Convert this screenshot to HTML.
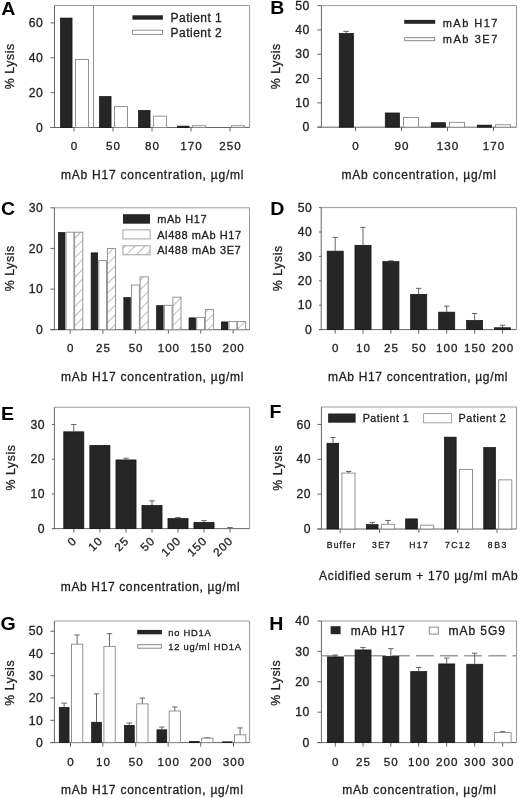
<!DOCTYPE html>
<html><head><meta charset="utf-8"><style>
html,body{margin:0;padding:0;background:#fff;}
body{width:520px;height:798px;overflow:hidden;}
svg{display:block;}
#wrap{width:520px;height:798px;filter:grayscale(1);}
text{font-family:"Liberation Sans", sans-serif;stroke:#222;stroke-width:0.3px;}
</style></head><body><div id="wrap">
<svg width="520" height="798" viewBox="0 0 520 798" fill="#222">
<defs>
<pattern id="hatch" patternUnits="userSpaceOnUse" width="6.9" height="6.9" patternTransform="rotate(45)">
<rect width="6.9" height="6.9" fill="#fff"/>
<line x1="0" y1="0" x2="0" y2="6.9" stroke="#858585" stroke-width="1.1"/>
</pattern>
</defs>
<rect width="520" height="798" fill="#fff"/>
<line x1="54.50" y1="5.50" x2="249.60" y2="5.50" stroke="#9a9a9a" stroke-width="1"/>
<line x1="249.60" y1="5.50" x2="249.60" y2="127.50" stroke="#9a9a9a" stroke-width="1"/>
<line x1="74.00" y1="127.50" x2="74.00" y2="131.50" stroke="#666" stroke-width="1"/>
<line x1="113.00" y1="127.50" x2="113.00" y2="131.50" stroke="#666" stroke-width="1"/>
<line x1="152.00" y1="127.50" x2="152.00" y2="131.50" stroke="#666" stroke-width="1"/>
<line x1="191.00" y1="127.50" x2="191.00" y2="131.50" stroke="#666" stroke-width="1"/>
<line x1="230.00" y1="127.50" x2="230.00" y2="131.50" stroke="#666" stroke-width="1"/>
<line x1="54.50" y1="5.50" x2="54.50" y2="128.00" stroke="#666" stroke-width="1"/>
<line x1="50.50" y1="127.50" x2="249.60" y2="127.50" stroke="#666" stroke-width="1"/>
<line x1="50.50" y1="127.50" x2="54.50" y2="127.50" stroke="#666" stroke-width="1"/>
<text font-size="12.2" text-anchor="end" transform="translate(42.80 131.70)">0</text>
<line x1="50.50" y1="92.64" x2="54.50" y2="92.64" stroke="#666" stroke-width="1"/>
<text font-size="12.2" text-anchor="end" textLength="14.07" lengthAdjust="spacing" transform="translate(42.80 96.84)">20</text>
<line x1="50.50" y1="57.79" x2="54.50" y2="57.79" stroke="#666" stroke-width="1"/>
<text font-size="12.2" text-anchor="end" textLength="14.07" lengthAdjust="spacing" transform="translate(42.80 61.99)">40</text>
<line x1="50.50" y1="22.93" x2="54.50" y2="22.93" stroke="#666" stroke-width="1"/>
<text font-size="12.2" text-anchor="end" textLength="14.07" lengthAdjust="spacing" transform="translate(42.80 27.13)">60</text>
<line x1="93.50" y1="5.50" x2="93.50" y2="127.50" stroke="#909090" stroke-width="1"/>
<rect x="60.45" y="18.05" width="11.60" height="109.45" fill="#262626" stroke="#111" stroke-width="0.7"/>
<rect x="75.50" y="59.53" width="13.00" height="67.97" fill="#fff" stroke="#888888" stroke-width="0.9"/>
<rect x="99.45" y="96.48" width="11.60" height="31.02" fill="#262626" stroke="#111" stroke-width="0.7"/>
<rect x="114.50" y="106.59" width="13.00" height="20.91" fill="#fff" stroke="#888888" stroke-width="0.9"/>
<rect x="138.45" y="110.42" width="11.60" height="17.08" fill="#262626" stroke="#111" stroke-width="0.7"/>
<rect x="153.50" y="116.17" width="13.00" height="11.33" fill="#fff" stroke="#888888" stroke-width="0.9"/>
<rect x="177.45" y="126.11" width="11.60" height="1.39" fill="#262626" stroke="#111" stroke-width="0.7"/>
<rect x="192.50" y="125.76" width="13.00" height="1.74" fill="#fff" stroke="#888888" stroke-width="0.9"/>
<rect x="231.50" y="125.76" width="13.00" height="1.74" fill="#fff" stroke="#888888" stroke-width="0.9"/>
<text font-size="19" text-anchor="start" font-weight="bold" fill="#000" style="stroke:none" transform="translate(1.20 15.30) scale(1.03 1)">A</text>
<text x="0" y="0" font-size="12.3" text-anchor="middle" textLength="45.3" lengthAdjust="spacing" transform="translate(13.60 66.50) rotate(-90)">% Lysis</text>
<text font-size="11.6" text-anchor="middle" transform="translate(74.00 150.30)">0</text>
<text font-size="11.6" text-anchor="middle" textLength="13.90" lengthAdjust="spacing" transform="translate(113.00 150.30)">50</text>
<text font-size="11.6" text-anchor="middle" textLength="13.90" lengthAdjust="spacing" transform="translate(152.00 150.30)">80</text>
<text font-size="11.6" text-anchor="middle" textLength="21.35" lengthAdjust="spacing" transform="translate(191.00 150.30)">170</text>
<text font-size="11.6" text-anchor="middle" textLength="21.35" lengthAdjust="spacing" transform="translate(230.00 150.30)">250</text>
<text font-size="12" text-anchor="start" textLength="182.50" lengthAdjust="spacing" transform="translate(61.00 178.80)">mAb H17 concentration, µg/ml</text>
<rect x="132.40" y="15.30" width="30.50" height="4.40" fill="#262626" stroke="none" stroke-width="1"/>
<rect x="132.40" y="30.20" width="30.10" height="4.20" fill="#fff" stroke="#888888" stroke-width="0.9"/>
<text font-size="12" text-anchor="start" textLength="51.30" lengthAdjust="spacing" transform="translate(170.50 21.90)">Patient 1</text>
<text font-size="12" text-anchor="start" textLength="51.30" lengthAdjust="spacing" transform="translate(170.50 36.90)">Patient 2</text>
<line x1="321.40" y1="5.60" x2="516.50" y2="5.60" stroke="#9a9a9a" stroke-width="1"/>
<line x1="516.50" y1="5.60" x2="516.50" y2="127.20" stroke="#9a9a9a" stroke-width="1"/>
<line x1="355.50" y1="127.20" x2="355.50" y2="131.20" stroke="#666" stroke-width="1"/>
<line x1="401.50" y1="127.20" x2="401.50" y2="131.20" stroke="#666" stroke-width="1"/>
<line x1="447.50" y1="127.20" x2="447.50" y2="131.20" stroke="#666" stroke-width="1"/>
<line x1="493.50" y1="127.20" x2="493.50" y2="131.20" stroke="#666" stroke-width="1"/>
<line x1="321.40" y1="5.60" x2="321.40" y2="127.70" stroke="#666" stroke-width="1"/>
<line x1="317.40" y1="127.20" x2="516.50" y2="127.20" stroke="#666" stroke-width="1"/>
<line x1="317.40" y1="127.20" x2="321.40" y2="127.20" stroke="#666" stroke-width="1"/>
<text font-size="12.2" text-anchor="end" transform="translate(309.20 131.40)">0</text>
<line x1="317.40" y1="102.88" x2="321.40" y2="102.88" stroke="#666" stroke-width="1"/>
<text font-size="12.2" text-anchor="end" textLength="14.07" lengthAdjust="spacing" transform="translate(309.20 107.08)">10</text>
<line x1="317.40" y1="78.56" x2="321.40" y2="78.56" stroke="#666" stroke-width="1"/>
<text font-size="12.2" text-anchor="end" textLength="14.07" lengthAdjust="spacing" transform="translate(309.20 82.76)">20</text>
<line x1="317.40" y1="54.24" x2="321.40" y2="54.24" stroke="#666" stroke-width="1"/>
<text font-size="12.2" text-anchor="end" textLength="14.07" lengthAdjust="spacing" transform="translate(309.20 58.44)">30</text>
<line x1="317.40" y1="29.92" x2="321.40" y2="29.92" stroke="#666" stroke-width="1"/>
<text font-size="12.2" text-anchor="end" textLength="14.07" lengthAdjust="spacing" transform="translate(309.20 34.12)">40</text>
<line x1="317.40" y1="5.60" x2="321.40" y2="5.60" stroke="#666" stroke-width="1"/>
<text font-size="12.2" text-anchor="end" textLength="14.07" lengthAdjust="spacing" transform="translate(309.20 9.80)">50</text>
<rect x="339.25" y="33.43" width="14.30" height="93.77" fill="#262626" stroke="#111" stroke-width="0.7"/>
<rect x="385.25" y="112.96" width="14.30" height="14.24" fill="#262626" stroke="#111" stroke-width="0.7"/>
<rect x="403.50" y="117.47" width="15.00" height="9.73" fill="#fff" stroke="#888888" stroke-width="0.9"/>
<rect x="431.25" y="122.69" width="14.30" height="4.51" fill="#262626" stroke="#111" stroke-width="0.7"/>
<rect x="449.50" y="122.34" width="15.00" height="4.86" fill="#fff" stroke="#888888" stroke-width="0.9"/>
<rect x="477.25" y="125.12" width="14.30" height="2.08" fill="#262626" stroke="#111" stroke-width="0.7"/>
<rect x="495.50" y="124.77" width="15.00" height="2.43" fill="#fff" stroke="#888888" stroke-width="0.9"/>
<line x1="346.20" y1="31.38" x2="346.20" y2="33.08" stroke="#666" stroke-width="1"/>
<line x1="343.50" y1="31.38" x2="348.90" y2="31.38" stroke="#666" stroke-width="1"/>
<text font-size="19" text-anchor="start" font-weight="bold" fill="#000" style="stroke:none" transform="translate(270.20 14.40) scale(1.03 1)">B</text>
<text x="0" y="0" font-size="12.3" text-anchor="middle" textLength="45.3" lengthAdjust="spacing" transform="translate(279.90 66.50) rotate(-90)">% Lysis</text>
<text font-size="11.6" text-anchor="middle" transform="translate(355.50 150.20)">0</text>
<text font-size="11.6" text-anchor="middle" textLength="13.90" lengthAdjust="spacing" transform="translate(401.50 150.20)">90</text>
<text font-size="11.6" text-anchor="middle" textLength="21.35" lengthAdjust="spacing" transform="translate(447.50 150.20)">130</text>
<text font-size="11.6" text-anchor="middle" textLength="21.35" lengthAdjust="spacing" transform="translate(493.50 150.20)">170</text>
<text font-size="12" text-anchor="start" textLength="154.50" lengthAdjust="spacing" transform="translate(341.50 178.60)">mAb concentration, µg/ml</text>
<rect x="404.20" y="19.90" width="31.00" height="3.90" fill="#262626" stroke="none" stroke-width="1"/>
<rect x="404.70" y="37.70" width="30.00" height="3.00" fill="#fff" stroke="#888888" stroke-width="1"/>
<text font-size="11" text-anchor="start" textLength="54.70" lengthAdjust="spacing" transform="translate(442.70 26.60)">mAb H17</text>
<text font-size="11" text-anchor="start" textLength="54.70" lengthAdjust="spacing" transform="translate(442.70 43.10)">mAb 3E7</text>
<line x1="54.40" y1="207.80" x2="249.50" y2="207.80" stroke="#9a9a9a" stroke-width="1"/>
<line x1="249.50" y1="207.80" x2="249.50" y2="329.70" stroke="#9a9a9a" stroke-width="1"/>
<line x1="70.20" y1="329.70" x2="70.20" y2="333.70" stroke="#666" stroke-width="1"/>
<line x1="102.90" y1="329.70" x2="102.90" y2="333.70" stroke="#666" stroke-width="1"/>
<line x1="135.60" y1="329.70" x2="135.60" y2="333.70" stroke="#666" stroke-width="1"/>
<line x1="168.40" y1="329.70" x2="168.40" y2="333.70" stroke="#666" stroke-width="1"/>
<line x1="200.80" y1="329.70" x2="200.80" y2="333.70" stroke="#666" stroke-width="1"/>
<line x1="233.10" y1="329.70" x2="233.10" y2="333.70" stroke="#666" stroke-width="1"/>
<line x1="54.40" y1="207.80" x2="54.40" y2="330.20" stroke="#666" stroke-width="1"/>
<line x1="50.40" y1="329.70" x2="249.50" y2="329.70" stroke="#666" stroke-width="1"/>
<line x1="50.40" y1="329.70" x2="54.40" y2="329.70" stroke="#666" stroke-width="1"/>
<text font-size="12.2" text-anchor="end" transform="translate(42.80 333.90)">0</text>
<line x1="50.40" y1="289.07" x2="54.40" y2="289.07" stroke="#666" stroke-width="1"/>
<text font-size="12.2" text-anchor="end" textLength="14.07" lengthAdjust="spacing" transform="translate(42.80 293.27)">10</text>
<line x1="50.40" y1="248.43" x2="54.40" y2="248.43" stroke="#666" stroke-width="1"/>
<text font-size="12.2" text-anchor="end" textLength="14.07" lengthAdjust="spacing" transform="translate(42.80 252.63)">20</text>
<line x1="50.40" y1="207.80" x2="54.40" y2="207.80" stroke="#666" stroke-width="1"/>
<text font-size="12.2" text-anchor="end" textLength="14.07" lengthAdjust="spacing" transform="translate(42.80 212.00)">30</text>
<rect x="58.45" y="232.53" width="6.50" height="97.17" fill="#262626" stroke="#111" stroke-width="0.7"/>
<rect x="66.10" y="232.18" width="7.80" height="97.52" fill="#fff" stroke="#888888" stroke-width="0.9"/>
<rect x="74.70" y="232.18" width="8.10" height="97.52" fill="url(#hatch)" stroke="#8a8a8a" stroke-width="0.9"/>
<rect x="91.15" y="252.85" width="6.50" height="76.85" fill="#262626" stroke="#111" stroke-width="0.7"/>
<rect x="98.80" y="260.62" width="7.80" height="69.08" fill="#fff" stroke="#888888" stroke-width="0.9"/>
<rect x="107.40" y="248.43" width="8.10" height="81.27" fill="url(#hatch)" stroke="#8a8a8a" stroke-width="0.9"/>
<rect x="123.85" y="297.54" width="6.50" height="32.16" fill="#262626" stroke="#111" stroke-width="0.7"/>
<rect x="131.50" y="285.00" width="7.80" height="44.70" fill="#fff" stroke="#888888" stroke-width="0.9"/>
<rect x="140.10" y="276.88" width="8.10" height="52.82" fill="url(#hatch)" stroke="#8a8a8a" stroke-width="0.9"/>
<rect x="156.65" y="305.67" width="6.50" height="24.03" fill="#262626" stroke="#111" stroke-width="0.7"/>
<rect x="164.30" y="305.32" width="7.80" height="24.38" fill="#fff" stroke="#888888" stroke-width="0.9"/>
<rect x="172.90" y="297.19" width="8.10" height="32.51" fill="url(#hatch)" stroke="#8a8a8a" stroke-width="0.9"/>
<rect x="189.05" y="317.86" width="6.50" height="11.84" fill="#262626" stroke="#111" stroke-width="0.7"/>
<rect x="196.70" y="317.51" width="7.80" height="12.19" fill="#fff" stroke="#888888" stroke-width="0.9"/>
<rect x="205.30" y="309.38" width="8.10" height="20.32" fill="url(#hatch)" stroke="#8a8a8a" stroke-width="0.9"/>
<rect x="221.35" y="321.92" width="6.50" height="7.78" fill="#262626" stroke="#111" stroke-width="0.7"/>
<rect x="229.00" y="321.57" width="7.80" height="8.13" fill="#fff" stroke="#888888" stroke-width="0.9"/>
<rect x="237.60" y="321.57" width="8.10" height="8.13" fill="url(#hatch)" stroke="#8a8a8a" stroke-width="0.9"/>
<text font-size="19" text-anchor="start" font-weight="bold" fill="#000" style="stroke:none" transform="translate(1.00 214.90) scale(1.03 1)">C</text>
<text x="0" y="0" font-size="12.3" text-anchor="middle" textLength="45.3" lengthAdjust="spacing" transform="translate(13.60 268.50) rotate(-90)">% Lysis</text>
<text font-size="11.6" text-anchor="middle" transform="translate(70.20 352.30)">0</text>
<text font-size="11.6" text-anchor="middle" textLength="13.90" lengthAdjust="spacing" transform="translate(102.90 352.30)">25</text>
<text font-size="11.6" text-anchor="middle" textLength="13.90" lengthAdjust="spacing" transform="translate(135.60 352.30)">50</text>
<text font-size="11.6" text-anchor="middle" textLength="21.35" lengthAdjust="spacing" transform="translate(168.40 352.30)">100</text>
<text font-size="11.6" text-anchor="middle" textLength="21.35" lengthAdjust="spacing" transform="translate(200.80 352.30)">150</text>
<text font-size="11.6" text-anchor="middle" textLength="21.35" lengthAdjust="spacing" transform="translate(233.10 352.30)">200</text>
<text font-size="12" text-anchor="start" textLength="182.50" lengthAdjust="spacing" transform="translate(61.00 381.00)">mAb H17 concentration, µg/ml</text>
<rect x="123.00" y="214.20" width="27.00" height="9.50" fill="#262626" stroke="none" stroke-width="1"/>
<rect x="122.90" y="229.90" width="27.20" height="9.00" fill="#fff" stroke="#999" stroke-width="0.9"/>
<rect x="122.90" y="245.80" width="27.20" height="9.00" fill="url(#hatch)" stroke="#999" stroke-width="0.9"/>
<text font-size="11" text-anchor="start" textLength="49.40" lengthAdjust="spacing" transform="translate(157.20 223.30)">mAb H17</text>
<text font-size="11" text-anchor="start" textLength="84.00" lengthAdjust="spacing" transform="translate(157.20 239.30)">Al488 mAb H17</text>
<text font-size="11" text-anchor="start" textLength="83.50" lengthAdjust="spacing" transform="translate(157.20 253.80)">Al488 mAb 3E7</text>
<line x1="321.20" y1="207.60" x2="516.50" y2="207.60" stroke="#9a9a9a" stroke-width="1"/>
<line x1="516.50" y1="207.60" x2="516.50" y2="329.60" stroke="#9a9a9a" stroke-width="1"/>
<line x1="335.20" y1="329.60" x2="335.20" y2="333.60" stroke="#666" stroke-width="1"/>
<line x1="363.00" y1="329.60" x2="363.00" y2="333.60" stroke="#666" stroke-width="1"/>
<line x1="390.90" y1="329.60" x2="390.90" y2="333.60" stroke="#666" stroke-width="1"/>
<line x1="418.70" y1="329.60" x2="418.70" y2="333.60" stroke="#666" stroke-width="1"/>
<line x1="446.70" y1="329.60" x2="446.70" y2="333.60" stroke="#666" stroke-width="1"/>
<line x1="474.60" y1="329.60" x2="474.60" y2="333.60" stroke="#666" stroke-width="1"/>
<line x1="502.50" y1="329.60" x2="502.50" y2="333.60" stroke="#666" stroke-width="1"/>
<line x1="321.20" y1="207.60" x2="321.20" y2="330.10" stroke="#666" stroke-width="1"/>
<line x1="319.00" y1="329.60" x2="516.50" y2="329.60" stroke="#666" stroke-width="1"/>
<line x1="319.00" y1="329.60" x2="321.20" y2="329.60" stroke="#666" stroke-width="1"/>
<text font-size="12.2" text-anchor="end" transform="translate(311.80 333.80)">0</text>
<line x1="319.00" y1="305.20" x2="321.20" y2="305.20" stroke="#666" stroke-width="1"/>
<text font-size="12.2" text-anchor="end" textLength="14.07" lengthAdjust="spacing" transform="translate(311.80 309.40)">10</text>
<line x1="319.00" y1="280.80" x2="321.20" y2="280.80" stroke="#666" stroke-width="1"/>
<text font-size="12.2" text-anchor="end" textLength="14.07" lengthAdjust="spacing" transform="translate(311.80 285.00)">20</text>
<line x1="319.00" y1="256.40" x2="321.20" y2="256.40" stroke="#666" stroke-width="1"/>
<text font-size="12.2" text-anchor="end" textLength="14.07" lengthAdjust="spacing" transform="translate(311.80 260.60)">30</text>
<line x1="319.00" y1="232.00" x2="321.20" y2="232.00" stroke="#666" stroke-width="1"/>
<text font-size="12.2" text-anchor="end" textLength="14.07" lengthAdjust="spacing" transform="translate(311.80 236.20)">40</text>
<line x1="319.00" y1="207.60" x2="321.20" y2="207.60" stroke="#666" stroke-width="1"/>
<text font-size="12.2" text-anchor="end" textLength="14.07" lengthAdjust="spacing" transform="translate(311.80 211.80)">50</text>
<line x1="335.20" y1="237.37" x2="335.20" y2="250.79" stroke="#666" stroke-width="1"/>
<line x1="332.50" y1="237.37" x2="337.90" y2="237.37" stroke="#666" stroke-width="1"/>
<rect x="327.15" y="251.14" width="16.10" height="78.46" fill="#262626" stroke="#111" stroke-width="0.7"/>
<line x1="363.00" y1="227.36" x2="363.00" y2="244.93" stroke="#666" stroke-width="1"/>
<line x1="360.30" y1="227.36" x2="365.70" y2="227.36" stroke="#666" stroke-width="1"/>
<rect x="354.95" y="245.28" width="16.10" height="84.32" fill="#262626" stroke="#111" stroke-width="0.7"/>
<line x1="390.90" y1="260.79" x2="390.90" y2="261.28" stroke="#666" stroke-width="1"/>
<line x1="388.20" y1="260.79" x2="393.60" y2="260.79" stroke="#666" stroke-width="1"/>
<rect x="382.85" y="261.63" width="16.10" height="67.97" fill="#262626" stroke="#111" stroke-width="0.7"/>
<line x1="418.70" y1="288.36" x2="418.70" y2="293.98" stroke="#666" stroke-width="1"/>
<line x1="416.00" y1="288.36" x2="421.40" y2="288.36" stroke="#666" stroke-width="1"/>
<rect x="410.65" y="294.33" width="16.10" height="35.27" fill="#262626" stroke="#111" stroke-width="0.7"/>
<line x1="446.70" y1="306.18" x2="446.70" y2="311.79" stroke="#666" stroke-width="1"/>
<line x1="444.00" y1="306.18" x2="449.40" y2="306.18" stroke="#666" stroke-width="1"/>
<rect x="438.65" y="312.14" width="16.10" height="17.46" fill="#262626" stroke="#111" stroke-width="0.7"/>
<line x1="474.60" y1="313.50" x2="474.60" y2="320.08" stroke="#666" stroke-width="1"/>
<line x1="471.90" y1="313.50" x2="477.30" y2="313.50" stroke="#666" stroke-width="1"/>
<rect x="466.55" y="320.43" width="16.10" height="9.17" fill="#262626" stroke="#111" stroke-width="0.7"/>
<line x1="502.50" y1="325.21" x2="502.50" y2="327.40" stroke="#666" stroke-width="1"/>
<line x1="499.80" y1="325.21" x2="505.20" y2="325.21" stroke="#666" stroke-width="1"/>
<rect x="494.45" y="327.75" width="16.10" height="1.85" fill="#262626" stroke="#111" stroke-width="0.7"/>
<text font-size="19" text-anchor="start" font-weight="bold" fill="#000" style="stroke:none" transform="translate(270.20 214.80) scale(1.03 1)">D</text>
<text x="0" y="0" font-size="12.3" text-anchor="middle" textLength="45.3" lengthAdjust="spacing" transform="translate(281.90 268.50) rotate(-90)">% Lysis</text>
<text font-size="11.6" text-anchor="middle" transform="translate(335.20 352.30)">0</text>
<text font-size="11.6" text-anchor="middle" textLength="13.90" lengthAdjust="spacing" transform="translate(363.00 352.30)">10</text>
<text font-size="11.6" text-anchor="middle" textLength="13.90" lengthAdjust="spacing" transform="translate(390.90 352.30)">25</text>
<text font-size="11.6" text-anchor="middle" textLength="13.90" lengthAdjust="spacing" transform="translate(418.70 352.30)">50</text>
<text font-size="11.6" text-anchor="middle" textLength="21.35" lengthAdjust="spacing" transform="translate(446.70 352.30)">100</text>
<text font-size="11.6" text-anchor="middle" textLength="21.35" lengthAdjust="spacing" transform="translate(474.60 352.30)">150</text>
<text font-size="11.6" text-anchor="middle" textLength="21.35" lengthAdjust="spacing" transform="translate(502.50 352.30)">200</text>
<text font-size="12" text-anchor="start" textLength="179.50" lengthAdjust="spacing" transform="translate(328.00 380.80)">mAb H17 concentration, µg/ml</text>
<line x1="54.40" y1="407.20" x2="249.60" y2="407.20" stroke="#9a9a9a" stroke-width="1"/>
<line x1="249.60" y1="407.20" x2="249.60" y2="528.60" stroke="#9a9a9a" stroke-width="1"/>
<line x1="73.80" y1="528.60" x2="73.80" y2="532.60" stroke="#666" stroke-width="1"/>
<line x1="99.90" y1="528.60" x2="99.90" y2="532.60" stroke="#666" stroke-width="1"/>
<line x1="126.00" y1="528.60" x2="126.00" y2="532.60" stroke="#666" stroke-width="1"/>
<line x1="152.00" y1="528.60" x2="152.00" y2="532.60" stroke="#666" stroke-width="1"/>
<line x1="178.00" y1="528.60" x2="178.00" y2="532.60" stroke="#666" stroke-width="1"/>
<line x1="204.00" y1="528.60" x2="204.00" y2="532.60" stroke="#666" stroke-width="1"/>
<line x1="230.00" y1="528.60" x2="230.00" y2="532.60" stroke="#666" stroke-width="1"/>
<line x1="54.40" y1="407.20" x2="54.40" y2="529.10" stroke="#666" stroke-width="1"/>
<line x1="52.00" y1="528.60" x2="249.60" y2="528.60" stroke="#666" stroke-width="1"/>
<line x1="52.00" y1="528.60" x2="54.40" y2="528.60" stroke="#666" stroke-width="1"/>
<text font-size="12.2" text-anchor="end" transform="translate(44.60 532.80)">0</text>
<line x1="52.00" y1="493.91" x2="54.40" y2="493.91" stroke="#666" stroke-width="1"/>
<text font-size="12.2" text-anchor="end" textLength="14.07" lengthAdjust="spacing" transform="translate(44.60 498.11)">10</text>
<line x1="52.00" y1="459.23" x2="54.40" y2="459.23" stroke="#666" stroke-width="1"/>
<text font-size="12.2" text-anchor="end" textLength="14.07" lengthAdjust="spacing" transform="translate(44.60 463.43)">20</text>
<line x1="52.00" y1="424.54" x2="54.40" y2="424.54" stroke="#666" stroke-width="1"/>
<text font-size="12.2" text-anchor="end" textLength="14.07" lengthAdjust="spacing" transform="translate(44.60 428.74)">30</text>
<line x1="73.80" y1="424.54" x2="73.80" y2="431.48" stroke="#666" stroke-width="1"/>
<line x1="71.10" y1="424.54" x2="76.50" y2="424.54" stroke="#666" stroke-width="1"/>
<rect x="63.75" y="431.83" width="20.10" height="96.77" fill="#262626" stroke="#111" stroke-width="0.7"/>
<rect x="89.85" y="445.36" width="20.10" height="83.24" fill="#262626" stroke="#111" stroke-width="0.7"/>
<line x1="126.00" y1="458.19" x2="126.00" y2="459.58" stroke="#666" stroke-width="1"/>
<line x1="123.30" y1="458.19" x2="128.70" y2="458.19" stroke="#666" stroke-width="1"/>
<rect x="115.95" y="459.93" width="20.10" height="68.67" fill="#262626" stroke="#111" stroke-width="0.7"/>
<line x1="152.00" y1="500.85" x2="152.00" y2="505.01" stroke="#666" stroke-width="1"/>
<line x1="149.30" y1="500.85" x2="154.70" y2="500.85" stroke="#666" stroke-width="1"/>
<rect x="141.95" y="505.36" width="20.10" height="23.24" fill="#262626" stroke="#111" stroke-width="0.7"/>
<line x1="178.00" y1="517.50" x2="178.00" y2="518.19" stroke="#666" stroke-width="1"/>
<line x1="175.30" y1="517.50" x2="180.70" y2="517.50" stroke="#666" stroke-width="1"/>
<rect x="167.95" y="518.54" width="20.10" height="10.06" fill="#262626" stroke="#111" stroke-width="0.7"/>
<line x1="204.00" y1="520.62" x2="204.00" y2="522.01" stroke="#666" stroke-width="1"/>
<line x1="201.30" y1="520.62" x2="206.70" y2="520.62" stroke="#666" stroke-width="1"/>
<rect x="193.95" y="522.36" width="20.10" height="6.24" fill="#262626" stroke="#111" stroke-width="0.7"/>
<line x1="230.00" y1="527.56" x2="230.00" y2="528.60" stroke="#666" stroke-width="1"/>
<line x1="227.30" y1="527.56" x2="232.70" y2="527.56" stroke="#666" stroke-width="1"/>
<text font-size="19" text-anchor="start" font-weight="bold" fill="#000" style="stroke:none" transform="translate(0.90 420.30) scale(1.03 1)">E</text>
<text x="0" y="0" font-size="12.3" text-anchor="middle" textLength="45.3" lengthAdjust="spacing" transform="translate(15.10 467.80) rotate(-90)">% Lysis</text>
<text font-size="11.6" text-anchor="end" transform="translate(76.80 542.20) rotate(-45)">0</text>
<text font-size="11.6" text-anchor="end" textLength="13.90" lengthAdjust="spacing" transform="translate(102.90 542.20) rotate(-45)">10</text>
<text font-size="11.6" text-anchor="end" textLength="13.90" lengthAdjust="spacing" transform="translate(129.00 542.20) rotate(-45)">25</text>
<text font-size="11.6" text-anchor="end" textLength="13.90" lengthAdjust="spacing" transform="translate(155.00 542.20) rotate(-45)">50</text>
<text font-size="11.6" text-anchor="end" textLength="21.35" lengthAdjust="spacing" transform="translate(181.00 542.20) rotate(-45)">100</text>
<text font-size="11.6" text-anchor="end" textLength="21.35" lengthAdjust="spacing" transform="translate(207.00 542.20) rotate(-45)">150</text>
<text font-size="11.6" text-anchor="end" textLength="21.35" lengthAdjust="spacing" transform="translate(233.00 542.20) rotate(-45)">200</text>
<text font-size="12" text-anchor="start" textLength="178.80" lengthAdjust="spacing" transform="translate(60.80 590.80)">mAb H17 concentration, µg/ml</text>
<line x1="321.40" y1="407.00" x2="516.50" y2="407.00" stroke="#9a9a9a" stroke-width="1"/>
<line x1="516.50" y1="407.00" x2="516.50" y2="529.00" stroke="#9a9a9a" stroke-width="1"/>
<line x1="340.20" y1="529.00" x2="340.20" y2="533.00" stroke="#666" stroke-width="1"/>
<line x1="379.60" y1="529.00" x2="379.60" y2="533.00" stroke="#666" stroke-width="1"/>
<line x1="418.90" y1="529.00" x2="418.90" y2="533.00" stroke="#666" stroke-width="1"/>
<line x1="457.70" y1="529.00" x2="457.70" y2="533.00" stroke="#666" stroke-width="1"/>
<line x1="497.00" y1="529.00" x2="497.00" y2="533.00" stroke="#666" stroke-width="1"/>
<line x1="321.40" y1="407.00" x2="321.40" y2="529.50" stroke="#666" stroke-width="1"/>
<line x1="317.40" y1="529.00" x2="516.50" y2="529.00" stroke="#666" stroke-width="1"/>
<line x1="317.40" y1="529.00" x2="321.40" y2="529.00" stroke="#666" stroke-width="1"/>
<text font-size="12.2" text-anchor="end" transform="translate(310.50 533.20)">0</text>
<line x1="317.40" y1="494.14" x2="321.40" y2="494.14" stroke="#666" stroke-width="1"/>
<text font-size="12.2" text-anchor="end" textLength="14.07" lengthAdjust="spacing" transform="translate(310.50 498.34)">20</text>
<line x1="317.40" y1="459.29" x2="321.40" y2="459.29" stroke="#666" stroke-width="1"/>
<text font-size="12.2" text-anchor="end" textLength="14.07" lengthAdjust="spacing" transform="translate(310.50 463.49)">40</text>
<line x1="317.40" y1="424.43" x2="321.40" y2="424.43" stroke="#666" stroke-width="1"/>
<text font-size="12.2" text-anchor="end" textLength="14.07" lengthAdjust="spacing" transform="translate(310.50 428.63)">60</text>
<line x1="333.00" y1="437.50" x2="333.00" y2="442.90" stroke="#666" stroke-width="1"/>
<line x1="330.30" y1="437.50" x2="335.70" y2="437.50" stroke="#666" stroke-width="1"/>
<line x1="348.60" y1="471.49" x2="348.60" y2="473.05" stroke="#666" stroke-width="1"/>
<line x1="345.90" y1="471.49" x2="351.30" y2="471.49" stroke="#666" stroke-width="1"/>
<rect x="326.95" y="443.25" width="11.70" height="85.75" fill="#262626" stroke="#111" stroke-width="0.7"/>
<rect x="341.90" y="473.05" width="13.10" height="55.95" fill="#fff" stroke="#888888" stroke-width="0.9"/>
<line x1="372.40" y1="522.38" x2="372.40" y2="524.29" stroke="#666" stroke-width="1"/>
<line x1="369.70" y1="522.38" x2="375.10" y2="522.38" stroke="#666" stroke-width="1"/>
<line x1="388.00" y1="520.46" x2="388.00" y2="524.29" stroke="#666" stroke-width="1"/>
<line x1="385.30" y1="520.46" x2="390.70" y2="520.46" stroke="#666" stroke-width="1"/>
<rect x="366.35" y="524.64" width="11.70" height="4.36" fill="#262626" stroke="#111" stroke-width="0.7"/>
<rect x="381.30" y="524.29" width="13.10" height="4.71" fill="#fff" stroke="#888888" stroke-width="0.9"/>
<rect x="405.65" y="518.89" width="11.70" height="10.11" fill="#262626" stroke="#111" stroke-width="0.7"/>
<rect x="420.60" y="525.17" width="13.10" height="3.83" fill="#fff" stroke="#888888" stroke-width="0.9"/>
<rect x="444.45" y="437.15" width="11.70" height="91.85" fill="#262626" stroke="#111" stroke-width="0.7"/>
<rect x="459.40" y="469.39" width="13.10" height="59.61" fill="#fff" stroke="#888888" stroke-width="0.9"/>
<rect x="483.75" y="447.44" width="11.70" height="81.56" fill="#262626" stroke="#111" stroke-width="0.7"/>
<rect x="498.70" y="479.85" width="13.10" height="49.15" fill="#fff" stroke="#888888" stroke-width="0.9"/>
<text font-size="19" text-anchor="start" font-weight="bold" fill="#000" style="stroke:none" transform="translate(269.40 418.30) scale(1.03 1)">F</text>
<text x="0" y="0" font-size="12.3" text-anchor="middle" textLength="45.3" lengthAdjust="spacing" transform="translate(281.90 468.00) rotate(-90)">% Lysis</text>
<text font-size="8.6" text-anchor="middle" textLength="28.50" lengthAdjust="spacing" transform="translate(341.00 547.70)">Buffer</text>
<text font-size="8.6" text-anchor="middle" textLength="17.80" lengthAdjust="spacing" transform="translate(381.00 547.70)">3E7</text>
<text font-size="8.6" text-anchor="middle" textLength="18.40" lengthAdjust="spacing" transform="translate(418.50 547.70)">H17</text>
<text font-size="8.6" text-anchor="middle" textLength="24.70" lengthAdjust="spacing" transform="translate(457.40 547.70)">7C12</text>
<text font-size="8.6" text-anchor="middle" textLength="18.50" lengthAdjust="spacing" transform="translate(497.00 547.70)">8B3</text>
<text font-size="12" text-anchor="start" textLength="198.80" lengthAdjust="spacing" transform="translate(319.00 579.60)">Acidified serum + 170 µg/ml mAb</text>
<rect x="328.10" y="413.50" width="27.50" height="9.20" fill="#262626" stroke="none" stroke-width="1"/>
<rect x="423.60" y="413.60" width="28.00" height="9.20" fill="#fff" stroke="#999" stroke-width="0.9"/>
<text font-size="10.8" text-anchor="start" textLength="46.20" lengthAdjust="spacing" transform="translate(362.70 422.10)">Patient 1</text>
<text font-size="10.8" text-anchor="start" textLength="47.30" lengthAdjust="spacing" transform="translate(458.50 422.10)">Patient 2</text>
<line x1="54.40" y1="621.00" x2="249.60" y2="621.00" stroke="#9a9a9a" stroke-width="1"/>
<line x1="249.60" y1="621.00" x2="249.60" y2="742.60" stroke="#9a9a9a" stroke-width="1"/>
<line x1="70.50" y1="742.60" x2="70.50" y2="746.60" stroke="#666" stroke-width="1"/>
<line x1="102.90" y1="742.60" x2="102.90" y2="746.60" stroke="#666" stroke-width="1"/>
<line x1="135.70" y1="742.60" x2="135.70" y2="746.60" stroke="#666" stroke-width="1"/>
<line x1="168.20" y1="742.60" x2="168.20" y2="746.60" stroke="#666" stroke-width="1"/>
<line x1="200.70" y1="742.60" x2="200.70" y2="746.60" stroke="#666" stroke-width="1"/>
<line x1="233.50" y1="742.60" x2="233.50" y2="746.60" stroke="#666" stroke-width="1"/>
<line x1="54.40" y1="621.00" x2="54.40" y2="743.10" stroke="#666" stroke-width="1"/>
<line x1="50.40" y1="742.60" x2="249.60" y2="742.60" stroke="#666" stroke-width="1"/>
<line x1="50.40" y1="742.60" x2="54.40" y2="742.60" stroke="#666" stroke-width="1"/>
<text font-size="12.2" text-anchor="end" transform="translate(42.80 746.80)">0</text>
<line x1="50.40" y1="720.33" x2="54.40" y2="720.33" stroke="#666" stroke-width="1"/>
<text font-size="12.2" text-anchor="end" textLength="14.07" lengthAdjust="spacing" transform="translate(42.80 724.53)">10</text>
<line x1="50.40" y1="698.06" x2="54.40" y2="698.06" stroke="#666" stroke-width="1"/>
<text font-size="12.2" text-anchor="end" textLength="14.07" lengthAdjust="spacing" transform="translate(42.80 702.26)">20</text>
<line x1="50.40" y1="675.79" x2="54.40" y2="675.79" stroke="#666" stroke-width="1"/>
<text font-size="12.2" text-anchor="end" textLength="14.07" lengthAdjust="spacing" transform="translate(42.80 679.99)">30</text>
<line x1="50.40" y1="653.52" x2="54.40" y2="653.52" stroke="#666" stroke-width="1"/>
<text font-size="12.2" text-anchor="end" textLength="14.07" lengthAdjust="spacing" transform="translate(42.80 657.72)">40</text>
<line x1="50.40" y1="631.24" x2="54.40" y2="631.24" stroke="#666" stroke-width="1"/>
<text font-size="12.2" text-anchor="end" textLength="14.07" lengthAdjust="spacing" transform="translate(42.80 635.44)">50</text>
<line x1="64.10" y1="703.18" x2="64.10" y2="706.97" stroke="#666" stroke-width="1"/>
<line x1="61.40" y1="703.18" x2="66.80" y2="703.18" stroke="#666" stroke-width="1"/>
<line x1="77.10" y1="635.03" x2="77.10" y2="644.16" stroke="#666" stroke-width="1"/>
<line x1="74.40" y1="635.03" x2="79.80" y2="635.03" stroke="#666" stroke-width="1"/>
<rect x="59.25" y="707.32" width="9.80" height="35.28" fill="#262626" stroke="#111" stroke-width="0.7"/>
<rect x="71.50" y="644.16" width="11.30" height="98.44" fill="#fff" stroke="#888888" stroke-width="0.9"/>
<line x1="96.50" y1="693.83" x2="96.50" y2="721.89" stroke="#666" stroke-width="1"/>
<line x1="93.80" y1="693.83" x2="99.20" y2="693.83" stroke="#666" stroke-width="1"/>
<line x1="109.50" y1="633.69" x2="109.50" y2="646.39" stroke="#666" stroke-width="1"/>
<line x1="106.80" y1="633.69" x2="112.20" y2="633.69" stroke="#666" stroke-width="1"/>
<rect x="91.65" y="722.24" width="9.80" height="20.36" fill="#262626" stroke="#111" stroke-width="0.7"/>
<rect x="103.90" y="646.39" width="11.30" height="96.21" fill="#fff" stroke="#888888" stroke-width="0.9"/>
<line x1="129.30" y1="723.00" x2="129.30" y2="725.01" stroke="#666" stroke-width="1"/>
<line x1="126.60" y1="723.00" x2="132.00" y2="723.00" stroke="#666" stroke-width="1"/>
<line x1="142.30" y1="698.06" x2="142.30" y2="703.85" stroke="#666" stroke-width="1"/>
<line x1="139.60" y1="698.06" x2="145.00" y2="698.06" stroke="#666" stroke-width="1"/>
<rect x="124.45" y="725.36" width="9.80" height="17.24" fill="#262626" stroke="#111" stroke-width="0.7"/>
<rect x="136.70" y="703.85" width="11.30" height="38.75" fill="#fff" stroke="#888888" stroke-width="0.9"/>
<line x1="161.80" y1="727.01" x2="161.80" y2="729.46" stroke="#666" stroke-width="1"/>
<line x1="159.10" y1="727.01" x2="164.50" y2="727.01" stroke="#666" stroke-width="1"/>
<line x1="174.80" y1="706.97" x2="174.80" y2="710.98" stroke="#666" stroke-width="1"/>
<line x1="172.10" y1="706.97" x2="177.50" y2="706.97" stroke="#666" stroke-width="1"/>
<rect x="156.95" y="729.81" width="9.80" height="12.79" fill="#262626" stroke="#111" stroke-width="0.7"/>
<rect x="169.20" y="710.98" width="11.30" height="31.62" fill="#fff" stroke="#888888" stroke-width="0.9"/>
<line x1="207.30" y1="737.70" x2="207.30" y2="738.15" stroke="#666" stroke-width="1"/>
<line x1="204.60" y1="737.70" x2="210.00" y2="737.70" stroke="#666" stroke-width="1"/>
<rect x="189.45" y="741.39" width="9.80" height="1.21" fill="#262626" stroke="#111" stroke-width="0.7"/>
<rect x="201.70" y="738.15" width="11.30" height="4.45" fill="#fff" stroke="#888888" stroke-width="0.9"/>
<line x1="240.10" y1="727.90" x2="240.10" y2="734.81" stroke="#666" stroke-width="1"/>
<line x1="237.40" y1="727.90" x2="242.80" y2="727.90" stroke="#666" stroke-width="1"/>
<rect x="222.25" y="741.84" width="9.80" height="0.76" fill="#262626" stroke="#111" stroke-width="0.7"/>
<rect x="234.50" y="734.81" width="11.30" height="7.79" fill="#fff" stroke="#888888" stroke-width="0.9"/>
<text font-size="19" text-anchor="start" font-weight="bold" fill="#000" style="stroke:none" transform="translate(0.60 629.90) scale(1.03 1)">G</text>
<text x="0" y="0" font-size="12.3" text-anchor="middle" textLength="45.3" lengthAdjust="spacing" transform="translate(13.60 683.10) rotate(-90)">% Lysis</text>
<text font-size="11.6" text-anchor="middle" transform="translate(70.50 766.10)">0</text>
<text font-size="11.6" text-anchor="middle" textLength="13.90" lengthAdjust="spacing" transform="translate(102.90 766.10)">10</text>
<text font-size="11.6" text-anchor="middle" textLength="13.90" lengthAdjust="spacing" transform="translate(135.70 766.10)">50</text>
<text font-size="11.6" text-anchor="middle" textLength="21.35" lengthAdjust="spacing" transform="translate(168.20 766.10)">100</text>
<text font-size="11.6" text-anchor="middle" textLength="21.35" lengthAdjust="spacing" transform="translate(200.70 766.10)">200</text>
<text font-size="11.6" text-anchor="middle" textLength="21.35" lengthAdjust="spacing" transform="translate(233.50 766.10)">300</text>
<text font-size="12" text-anchor="start" textLength="182.00" lengthAdjust="spacing" transform="translate(61.00 793.90)">mAb H17 concentration, µg/ml</text>
<rect x="137.20" y="629.90" width="24.70" height="4.40" fill="#262626" stroke="none" stroke-width="1"/>
<rect x="137.70" y="644.70" width="23.70" height="3.50" fill="#fff" stroke="#888888" stroke-width="1"/>
<text font-size="9.4" text-anchor="start" textLength="42.60" lengthAdjust="spacing" transform="translate(168.20 636.20)">no HD1A</text>
<text font-size="9.4" text-anchor="start" textLength="72.80" lengthAdjust="spacing" transform="translate(168.20 650.00)">12 ug/ml HD1A</text>
<line x1="321.40" y1="621.00" x2="516.50" y2="621.00" stroke="#9a9a9a" stroke-width="1"/>
<line x1="516.50" y1="621.00" x2="516.50" y2="742.60" stroke="#9a9a9a" stroke-width="1"/>
<line x1="335.30" y1="742.60" x2="335.30" y2="746.60" stroke="#666" stroke-width="1"/>
<line x1="363.00" y1="742.60" x2="363.00" y2="746.60" stroke="#666" stroke-width="1"/>
<line x1="390.80" y1="742.60" x2="390.80" y2="746.60" stroke="#666" stroke-width="1"/>
<line x1="418.70" y1="742.60" x2="418.70" y2="746.60" stroke="#666" stroke-width="1"/>
<line x1="446.70" y1="742.60" x2="446.70" y2="746.60" stroke="#666" stroke-width="1"/>
<line x1="474.70" y1="742.60" x2="474.70" y2="746.60" stroke="#666" stroke-width="1"/>
<line x1="502.70" y1="742.60" x2="502.70" y2="746.60" stroke="#666" stroke-width="1"/>
<line x1="321.40" y1="621.00" x2="321.40" y2="743.10" stroke="#666" stroke-width="1"/>
<line x1="317.40" y1="742.60" x2="516.50" y2="742.60" stroke="#666" stroke-width="1"/>
<line x1="317.40" y1="742.60" x2="321.40" y2="742.60" stroke="#666" stroke-width="1"/>
<text font-size="12.2" text-anchor="end" transform="translate(309.20 746.80)">0</text>
<line x1="317.40" y1="712.20" x2="321.40" y2="712.20" stroke="#666" stroke-width="1"/>
<text font-size="12.2" text-anchor="end" textLength="14.07" lengthAdjust="spacing" transform="translate(309.20 716.40)">10</text>
<line x1="317.40" y1="681.80" x2="321.40" y2="681.80" stroke="#666" stroke-width="1"/>
<text font-size="12.2" text-anchor="end" textLength="14.07" lengthAdjust="spacing" transform="translate(309.20 686.00)">20</text>
<line x1="317.40" y1="651.40" x2="321.40" y2="651.40" stroke="#666" stroke-width="1"/>
<text font-size="12.2" text-anchor="end" textLength="14.07" lengthAdjust="spacing" transform="translate(309.20 655.60)">30</text>
<line x1="317.40" y1="621.00" x2="321.40" y2="621.00" stroke="#666" stroke-width="1"/>
<text font-size="12.2" text-anchor="end" textLength="14.07" lengthAdjust="spacing" transform="translate(309.20 625.20)">40</text>
<line x1="321.40" y1="655.70" x2="516.50" y2="655.70" stroke="#9c9c9c" stroke-width="1.4" stroke-dasharray="18 6.1" stroke-dashoffset="1.8"/>
<line x1="335.30" y1="655.05" x2="335.30" y2="656.57" stroke="#666" stroke-width="1"/>
<line x1="332.60" y1="655.05" x2="338.00" y2="655.05" stroke="#666" stroke-width="1"/>
<rect x="327.35" y="656.92" width="16.00" height="85.68" fill="#262626" stroke="#111" stroke-width="0.7"/>
<line x1="363.00" y1="647.45" x2="363.00" y2="649.58" stroke="#666" stroke-width="1"/>
<line x1="360.30" y1="647.45" x2="365.70" y2="647.45" stroke="#666" stroke-width="1"/>
<rect x="355.05" y="649.93" width="16.00" height="92.67" fill="#262626" stroke="#111" stroke-width="0.7"/>
<line x1="390.80" y1="648.66" x2="390.80" y2="655.96" stroke="#666" stroke-width="1"/>
<line x1="388.10" y1="648.66" x2="393.50" y2="648.66" stroke="#666" stroke-width="1"/>
<rect x="382.85" y="656.31" width="16.00" height="86.29" fill="#262626" stroke="#111" stroke-width="0.7"/>
<line x1="418.70" y1="667.51" x2="418.70" y2="671.16" stroke="#666" stroke-width="1"/>
<line x1="416.00" y1="667.51" x2="421.40" y2="667.51" stroke="#666" stroke-width="1"/>
<rect x="410.75" y="671.51" width="16.00" height="71.09" fill="#262626" stroke="#111" stroke-width="0.7"/>
<line x1="446.70" y1="658.09" x2="446.70" y2="663.56" stroke="#666" stroke-width="1"/>
<line x1="444.00" y1="658.09" x2="449.40" y2="658.09" stroke="#666" stroke-width="1"/>
<rect x="438.75" y="663.91" width="16.00" height="78.69" fill="#262626" stroke="#111" stroke-width="0.7"/>
<line x1="474.70" y1="653.22" x2="474.70" y2="663.86" stroke="#666" stroke-width="1"/>
<line x1="472.00" y1="653.22" x2="477.40" y2="653.22" stroke="#666" stroke-width="1"/>
<rect x="466.75" y="664.21" width="16.00" height="78.39" fill="#262626" stroke="#111" stroke-width="0.7"/>
<line x1="502.70" y1="731.66" x2="502.70" y2="732.57" stroke="#666" stroke-width="1"/>
<line x1="500.00" y1="731.66" x2="505.40" y2="731.66" stroke="#666" stroke-width="1"/>
<rect x="494.40" y="732.57" width="16.70" height="10.03" fill="#fff" stroke="#888888" stroke-width="0.9"/>
<text font-size="19" text-anchor="start" font-weight="bold" fill="#000" style="stroke:none" transform="translate(269.20 630.30) scale(1.03 1)">H</text>
<text x="0" y="0" font-size="12.3" text-anchor="middle" textLength="45.3" lengthAdjust="spacing" transform="translate(279.90 683.10) rotate(-90)">% Lysis</text>
<text font-size="11.6" text-anchor="middle" transform="translate(335.30 766.10)">0</text>
<text font-size="11.6" text-anchor="middle" textLength="13.90" lengthAdjust="spacing" transform="translate(363.00 766.10)">25</text>
<text font-size="11.6" text-anchor="middle" textLength="13.90" lengthAdjust="spacing" transform="translate(390.80 766.10)">50</text>
<text font-size="11.6" text-anchor="middle" textLength="21.35" lengthAdjust="spacing" transform="translate(418.70 766.10)">100</text>
<text font-size="11.6" text-anchor="middle" textLength="21.35" lengthAdjust="spacing" transform="translate(446.70 766.10)">200</text>
<text font-size="11.6" text-anchor="middle" textLength="21.35" lengthAdjust="spacing" transform="translate(474.70 766.10)">300</text>
<text font-size="11.6" text-anchor="middle" textLength="21.35" lengthAdjust="spacing" transform="translate(502.70 766.10)">300</text>
<text font-size="12" text-anchor="start" textLength="153.60" lengthAdjust="spacing" transform="translate(342.30 793.90)">mAb concentration, µg/ml</text>
<rect x="330.60" y="626.20" width="10.00" height="8.00" fill="#262626" stroke="none" stroke-width="1"/>
<rect x="429.30" y="627.10" width="9.00" height="7.00" fill="#fff" stroke="#888" stroke-width="1"/>
<text font-size="12" text-anchor="start" textLength="53.80" lengthAdjust="spacing" transform="translate(350.80 635.20)">mAb H17</text>
<text font-size="12" text-anchor="start" textLength="56.50" lengthAdjust="spacing" transform="translate(448.50 635.40)">mAb 5G9</text>
</svg></div>
</body></html>
